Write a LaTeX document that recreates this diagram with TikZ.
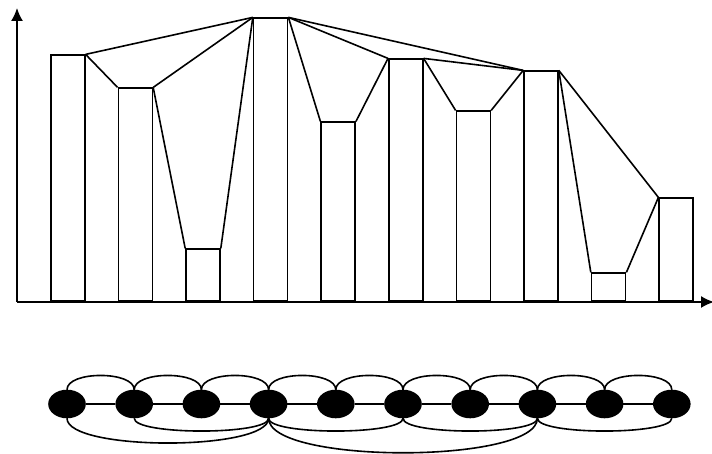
\documentclass[tikz,border=0pt]{standalone}
\usetikzlibrary{arrows.meta,shapes.geometric}

\begin{document}
\begin{tikzpicture}[
  x=1pt, y=1pt,
  line width=1.6pt,
  bar/.style={draw, anchor=south west, inner sep=0pt, minimum width=34pt},
  vertex/.style={draw, fill=black, ellipse, inner sep=0pt, minimum width=36pt, minimum height=27pt},
  axis/.style={-{Latex[length=13pt,width=12pt]}},
  arc/.style={line join=round}
]
\useasboundingbox (0,0) rectangle (712,454);

\coordinate (origin) at (17,152);
\coordinate (ytip) at (17,446);
\coordinate (xtip) at (714,152);
\draw[axis] (origin) -- (ytip);
\draw[axis] (origin) -- (xtip);

\foreach \h [count=\i] in {246,213,52,283,179,242,190,230,28,103}
  \node[bar, minimum height=\h] (b\i) at ({50+67.6*(\i-1)},152) {};

\foreach \a/\b in {1/2,1/4,2/3,2/4,3/4,4/5,4/6,4/8,5/6,6/7,6/8,7/8,8/9,8/10,9/10}
  \draw (b\a.north east) -- (b\b.north west);

\foreach \i in {1,...,10}
  \node[vertex] (v\i) at ({67+67.2*(\i-1)},50) {};

\foreach \i [count=\j from 2] in {1,...,9} {
  \draw (v\i) -- (v\j);
  \draw[arc] (v\i.north) .. controls +(0,19) and +(0,19) .. (v\j.north);
}

\foreach \a/\b/\d in {1/4/33,2/4/17,4/6/17,4/8/46,6/8/17,8/10/17}
  \draw[arc] (v\a.south) .. controls +(0,-\d) and +(0,-\d) .. (v\b.south);

\end{tikzpicture}
\end{document}
